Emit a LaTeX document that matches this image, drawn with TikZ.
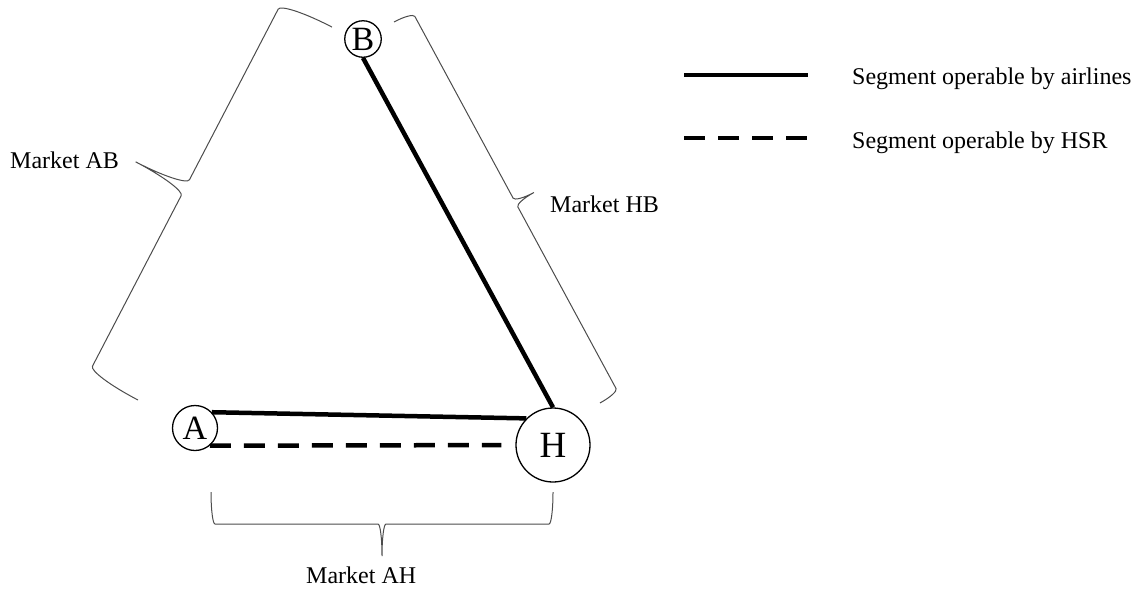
\documentclass[tikz,border=0pt]{standalone}
\usepackage{fontspec}
\setmainfont{Liberation Serif}
\usetikzlibrary{calc}

% curly brace in a local frame: #1 length, #2 half height, #3 corner size
\newcommand\curlybrace[3]{%
  \draw[bracestyle] (0,0)
    arc[start angle=180,end angle=90,x radius=#3,y radius=#2]
    -- ({#1/2-#3},#2)
    arc[start angle=270,end angle=360,x radius=#3,y radius=#2]
    arc[start angle=180,end angle=270,x radius=#3,y radius=#2]
    -- ({#1-#3},#2)
    arc[start angle=90,end angle=0,x radius=#3,y radius=#2];}

\tikzset{
  city/.style={circle,draw,line width=1.3pt,inner sep=0pt,fill=white},
  airline/.style={line width=4.5pt},
  rail/.style={line width=4.5pt,dash pattern=on 21pt off 13pt},
  bracestyle/.style={line width=1pt,draw=black!70},
  label/.style={inner sep=0pt,anchor=base west,font=\fontsize{24}{28}\selectfont},
}

\begin{document}
\begin{tikzpicture}[x=1pt,y=1pt]
\useasboundingbox (0,0) rectangle (1139,-590);

% cities
\node[city,minimum size=36.5pt,font=\fontsize{34}{36}\selectfont] (B) at (363,-39) {B};
\node[city,minimum size=45pt,font=\fontsize{34}{36}\selectfont] (A) at (195,-428) {A};
\node[city,minimum size=74pt,font=\fontsize{37}{40}\selectfont] (H) at (553,-445) {H};

% segments
\draw[airline] (B.south) -- (H.north);
\draw[airline] (A.43) -- (H.135);
\draw[rail,shorten >=14pt] (A.-50) -- (H.west);

% market braces
\begin{scope}[shift={(138,-400)},rotate=62.52]
  \curlybrace{420.4}{56}{9}
\end{scope}
\begin{scope}[shift={(394,-22)},rotate=-61.6]
  \curlybrace{433.1}{21}{5}
\end{scope}
\begin{scope}[shift={(553,-492)},rotate=180]
  \curlybrace{342}{32}{4}
\end{scope}

\node[label] (mAB) at (10,-168) {Market AB};
\node[label] (mHB) at (550,-212) {Market HB};
\node[label] (mAH) at (306,-583) {Market AH};

% legend
\coordinate (l1a) at (684,-75);
\coordinate (l1b) at (808,-75);
\coordinate (l2a) at (684,-138);
\coordinate (l2b) at (808,-138);
\draw[airline] (l1a) -- (l1b);
\draw[rail] (l2a) -- (l2b);
\node[label] (t1) at (852,-84) {Segment operable by airlines};
\node[label] (t2) at (852,-148) {Segment operable by HSR};
\end{tikzpicture}
\end{document}
